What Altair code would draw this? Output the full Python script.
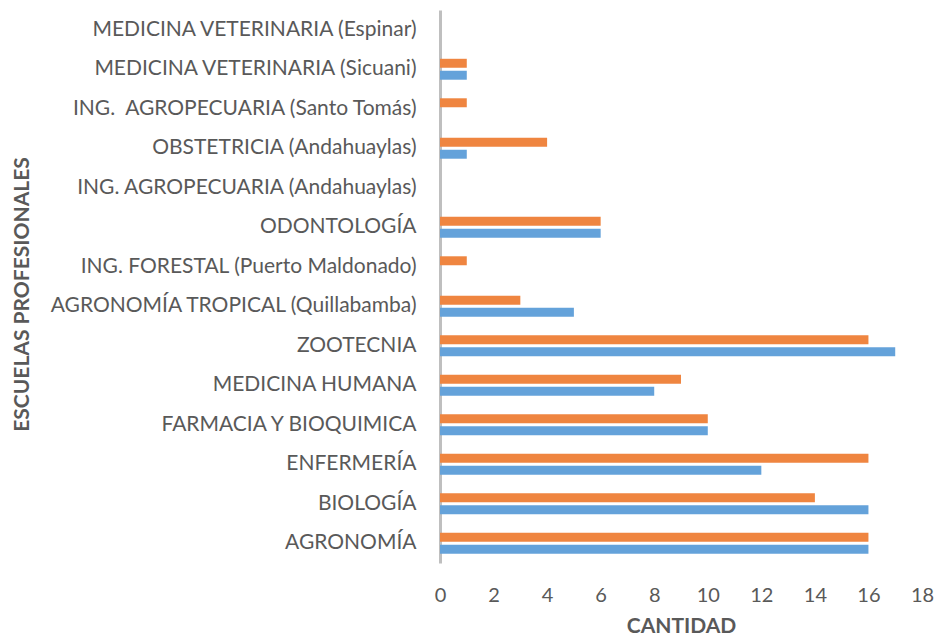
import altair as alt
import pandas as pd

categories = [
    "MEDICINA VETERINARIA (Espinar)",
    "MEDICINA VETERINARIA (Sicuani)",
    "ING.\u00a0 AGROPECUARIA (Santo Tomás)",
    "OBSTETRICIA (Andahuaylas)",
    "ING. AGROPECUARIA (Andahuaylas)",
    "ODONTOLOGÍA",
    "ING. FORESTAL (Puerto Maldonado)",
    "AGRONOMÍA TROPICAL (Quillabamba)",
    "ZOOTECNIA",
    "MEDICINA HUMANA",
    "FARMACIA Y BIOQUIMICA",
    "ENFERMERÍA",
    "BIOLOGÍA",
    "AGRONOMÍA",
]
serie_azul = [0, 1, 0, 1, 0, 6, 0, 5, 17, 8, 10, 12, 16, 16]
serie_naranja = [0, 1, 1, 4, 0, 6, 1, 3, 16, 9, 10, 16, 14, 16]
series = ["Serie 2", "Serie 1"]
colors = ["#EF8540", "#64A2DA"]

rows = []
for c, a, n in zip(categories, serie_azul, serie_naranja):
    rows.append({"escuela": c, "serie": "Serie 1", "cantidad": a})
    rows.append({"escuela": c, "serie": "Serie 2", "cantidad": n})
df = pd.DataFrame(rows)

FONT = "Lato"
GREY = "#595959"

chart = alt.Chart(df).mark_bar().encode(
    y=alt.Y("escuela:N", sort=categories,
            scale=alt.Scale(paddingInner=0.47, paddingOuter=0.235),
            axis=alt.Axis(title="ESCUELAS PROFESIONALES", ticks=False,
                          domainColor="#BFBFBF", domainWidth=3,
                          labelFontSize=21, labelColor=GREY, labelFont=FONT,
                          labelPadding=24, labelLimit=500,
                          titleFontSize=21, titleFont=FONT, titleColor=GREY,
                          titleFontWeight="bold", titleX=-418, titleY=284,
                          titleAngle=-90, titleBaseline="middle", titleAlign="center")),
    yOffset=alt.YOffset("serie:N", sort=series,
                        scale=alt.Scale(paddingInner=0.25)),
    x=alt.X("cantidad:Q", scale=alt.Scale(domain=[0, 18], nice=False),
            axis=alt.Axis(title="CANTIDAD", values=list(range(0, 19, 2)),
                          domain=False, ticks=False, grid=False, labelFlush=False,
                          labelFontSize=20, labelColor=GREY, labelFont=FONT,
                          labelPadding=22,
                          titleFontSize=21, titleFont=FONT, titleColor=GREY,
                          titleFontWeight="bold", titlePadding=10)),
    color=alt.Color("serie:N", scale=alt.Scale(domain=series, range=colors), legend=None),
).properties(
    width=482, height=553,
    autosize="none",
    padding={"left": 432, "top": 2, "right": 12, "bottom": 73},
).configure_view(stroke=None).configure_axis(grid=False)

chart.save("out.html", embed_options={"renderer": "svg", "actions": False})
